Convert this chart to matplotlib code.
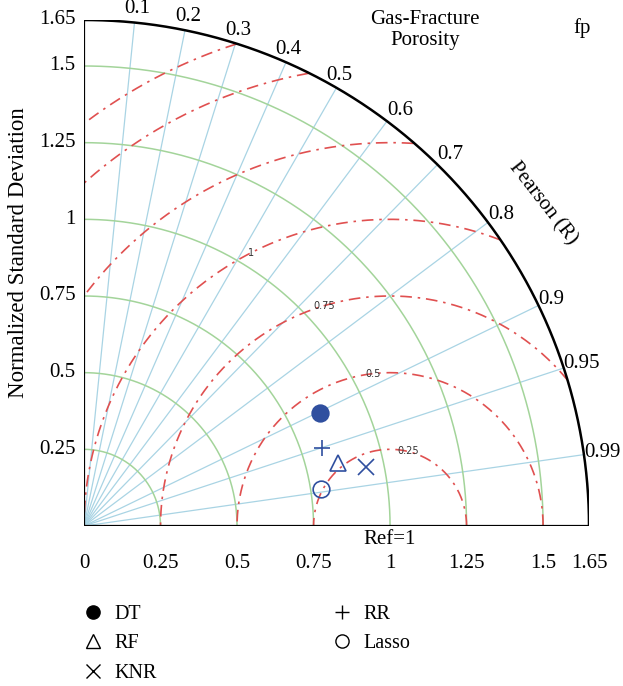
import numpy as np
import matplotlib
matplotlib.use("Agg")
import matplotlib.pyplot as plt
from matplotlib.lines import Line2D

plt.rcParams['font.family'] = ['Liberation Serif', 'DejaVu Serif']

# model results: normalized std and Pearson R
models = ['DT', 'RR', 'RF', 'KNR', 'Lasso']
std_vals = [0.855, 0.818, 0.854, 0.942, 0.783]
r_vals = [0.902, 0.950, 0.971, 0.979, 0.988]
markers = ['o', '+', '^', 'x', 'o']
filled = [True, False, False, False, False]

legend_order = ['DT', 'RF', 'KNR', 'RR', 'Lasso']

r_ticks = [0.1, 0.2, 0.3, 0.4, 0.5, 0.6, 0.7, 0.8, 0.9, 0.95, 0.99]
std_arcs = [0.25, 0.5, 0.75, 1.0, 1.25, 1.5]
rms_arcs = [0.25, 0.5, 0.75, 1.0, 1.25, 1.5, 1.65]
rms_labels = ['0.25', '0.5', '0.75', '1']
rms_label_ang = [76.5, 96.4, 106.7, 117.0]
axis_ticks = [0, 0.25, 0.5, 0.75, 1, 1.25, 1.5, 1.65]
smax = 1.65

fig = plt.figure(figsize=(6.23, 6.86), dpi=100)
ax = fig.add_axes([84 / 623, 160 / 686, 505 / 623, 506 / 686])
ax.set_xlim(0, smax)
ax.set_ylim(0, smax)
ax.axis('off')

blue_line = '#a9d4e4'
green = '#a3d49a'
red = '#e05050'
mk_col = '#2f4f9f'
fs = 15

# correlation rays
for r in r_ticks:
    a = np.arccos(r)
    ax.plot([0, smax * np.cos(a)], [0, smax * np.sin(a)], color=blue_line, lw=0.9, zorder=1)

t = np.linspace(0, np.pi / 2, 300)
for s in std_arcs:
    ax.plot(s * np.cos(t), s * np.sin(t), color=green, lw=1.1, zorder=1)

# centred RMS difference arcs around the reference point
tt = np.linspace(0, np.pi, 800)
for rr in rms_arcs:
    x = 1 + rr * np.cos(tt)
    y = rr * np.sin(tt)
    bad = (np.hypot(x, y) > smax + 1e-9) | (x < 0)
    x[bad] = np.nan
    y[bad] = np.nan
    ax.plot(x, y, color=red, lw=1.2, ls=(0, (7, 3.5, 1.5, 3.5)), zorder=2)

for lab, ang in zip(rms_labels, rms_label_ang):
    rr = float(lab)
    a = np.radians(ang)
    ax.text(1 + rr * np.cos(a), rr * np.sin(a), lab, fontsize=7, family='DejaVu Sans',
            color='#333333', ha='center', va='center', zorder=3)

# frame
ax.plot(smax * np.cos(t), smax * np.sin(t), color='black', lw=1.8, zorder=4)
ax.plot([0, smax], [0, 0], color='black', lw=1.6, zorder=4)
ax.plot([0, 0], [0, smax], color='black', lw=1.6, zorder=4)

# correlation labels
for r in r_ticks:
    a = np.arccos(r)
    px, py = smax * np.cos(a), smax * np.sin(a)
    dy = 10 * np.sin(a)
    if r <= 0.5:
        ax.annotate('%g' % r, (px, py), xytext=(2, dy), textcoords='offset points',
                    ha='center', va='center', fontsize=fs)
    else:
        ax.annotate('%g' % r, (px, py), xytext=(0, dy), textcoords='offset points',
                    ha='left', va='center', fontsize=fs)

# std tick labels
for v in axis_ticks:
    ax.annotate('%g' % v, (v, 0), xytext=(0, -27), textcoords='offset points',
                ha='center', va='center', fontsize=fs)
    if v > 0:
        ax.annotate('%g' % v, (0, v), xytext=(-6, 0), textcoords='offset points',
                    ha='right', va='center', fontsize=fs)

ax.text(1.0, -0.045, 'Ref=1', ha='center', va='center', fontsize=fs)
fig.text(19 / 623, 1 - 253 / 686, 'Normalized Standard Deviation', rotation=90,
         ha='center', va='center', fontsize=16.5)
fig.text(425 / 623, 1 - 30 / 686, 'Gas-Fracture\nPorosity', ha='center', va='center',
         fontsize=fs, linespacing=1.2)
fig.text(582 / 623, 1 - 28 / 686, 'fp', ha='center', va='center', fontsize=fs)
fig.text(543 / 623, 1 - 203 / 686, 'Pearson (R)', rotation=-52, ha='center', va='center',
         fontsize=fs)

# model points
for m, s, r, mk, f in zip(models, std_vals, r_vals, markers, filled):
    a = np.arccos(r)
    ax.plot(s * np.cos(a), s * np.sin(a), marker=mk, ms=12 if mk != '^' else 11,
            mfc=mk_col if f else 'none', mec=mk_col, mew=1.2, ls='none', zorder=5,
            clip_on=False)

handles = []
for name in legend_order:
    i = models.index(name)
    handles.append(Line2D([], [], marker=markers[i], ls='none', color='black',
                          mfc='black' if filled[i] else 'none', mec='black', ms=9.5, mew=1.0,
                          label=name))
fig.legend(handles=handles, ncol=2, loc='upper left', bbox_to_anchor=(60 / 623, 1 - 587 / 686),
           frameon=False, fontsize=14.5, columnspacing=8.45, handletextpad=0.3,
           labelspacing=0.5, handlelength=1.5)

fig.savefig('out.png', dpi=100)
